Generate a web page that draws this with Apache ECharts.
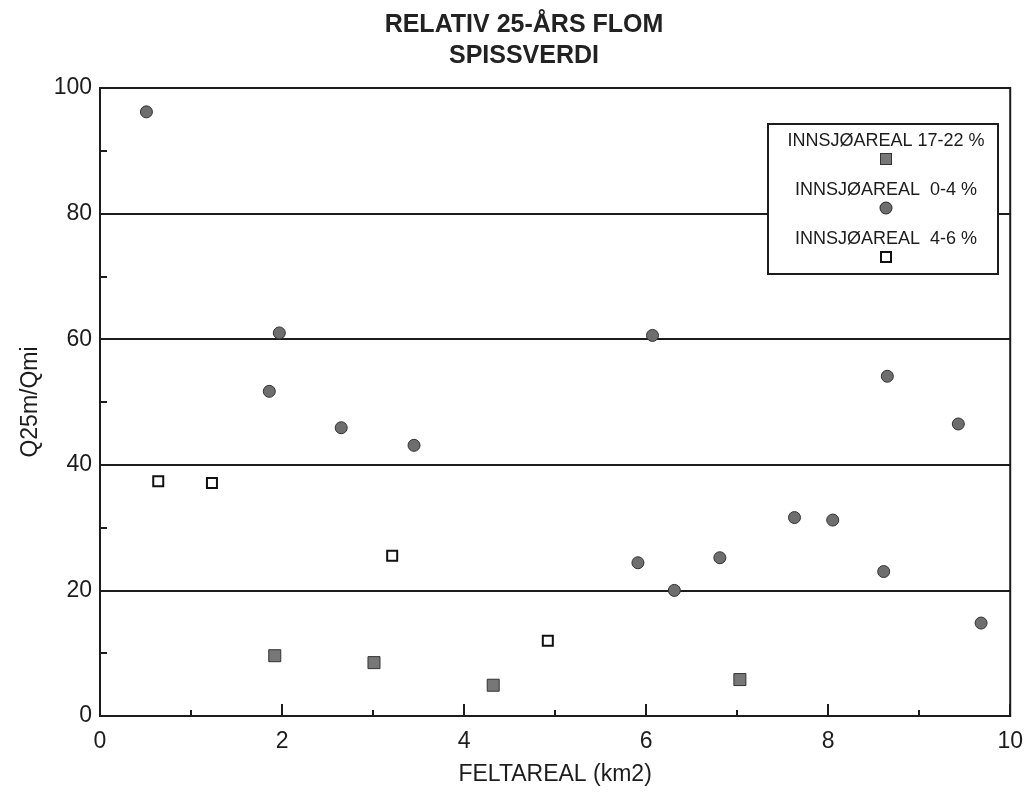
<!DOCTYPE html>
<html>
<head>
<meta charset="utf-8">
<script src="https://cdn.jsdelivr.net/npm/echarts@6/dist/echarts.min.js"></script>
<style>
  html, body { margin: 0; padding: 0; background: #fff; }
  #chart { width: 1026px; height: 796px; }
</style>
</head>
<body>
<div id="chart"></div>
<script>
// FELTAREAL (km2), Q25m/Qmi
const seriesNames = ['INNSJØAREAL 17-22 %', 'INNSJØAREAL  0-4 %', 'INNSJØAREAL  4-6 %'];
const lake17_22 = [[1.92, 9.6], [3.01, 8.5], [4.32, 4.9], [7.03, 5.8]];
const lake0_4 = [
  [0.51, 96.2], [1.97, 61.0], [1.86, 51.7], [2.65, 45.9], [3.45, 43.1],
  [6.07, 60.6], [5.91, 24.4], [6.31, 20.0], [6.81, 25.2], [7.63, 31.6],
  [8.05, 31.2], [8.61, 23.0], [8.65, 54.1], [9.43, 46.5], [9.68, 14.8]
];
const lake4_6 = [[0.64, 37.4], [1.23, 37.1], [3.21, 25.5], [4.92, 12.0]];
const xTicks = [0, 2, 4, 6, 8, 10];
const yTicks = [0, 20, 40, 60, 80, 100];

const ink = '#1c1c1c';
const font = '"Liberation Sans", Arial, sans-serif';
const legendKeys = ['sq', 'ci', 'os'];

const chart = echarts.init(document.getElementById('chart'));
chart.setOption({
  backgroundColor: '#ffffff',
  animation: false,
  title: {
    text: 'RELATIV 25-ÅRS FLOM\nSPISSVERDI',
    left: 519,
    top: 5,
    textAlign: 'center',
    textStyle: {
      fontFamily: font,
      fontWeight: 'bold',
      fontSize: 25,
      lineHeight: 31,
      color: '#222'
    }
  },
  grid: { left: 100, right: 14, top: 88, bottom: 80, show: true, borderColor: ink, borderWidth: 2 },
  legend: {
    orient: 'vertical',
    left: 768,
    top: 124,
    padding: [8, 7, 8, 7],
    itemGap: 13,
    itemWidth: 0,
    itemHeight: 0,
    itemStyle: { opacity: 0 },
    borderColor: ink,
    borderWidth: 2,
    backgroundColor: '#fff',
    selectedMode: false,
    data: seriesNames,
    formatter: function (name) {
      return '{t|' + name + '}\n{' + legendKeys[seriesNames.indexOf(name)] + '|}';
    },
    textStyle: {
      fontFamily: font,
      fontSize: 18,
      color: ink,
      rich: {
        t: { width: 210, align: 'center', lineHeight: 18, fontFamily: font, fontSize: 18, color: ink },
        sq: { width: 10, height: 10, align: 'center', lineHeight: 18, backgroundColor: '#777', borderColor: '#333', borderWidth: 1 },
        ci: { width: 11, height: 11, align: 'center', lineHeight: 18, backgroundColor: '#6e6e6e', borderColor: '#333', borderWidth: 1, borderRadius: 6 },
        os: { width: 8, height: 8, align: 'center', lineHeight: 18, backgroundColor: '#fff', borderColor: '#111', borderWidth: 2 }
      }
    }
  },
  xAxis: {
    type: 'value',
    min: xTicks[0],
    max: xTicks[xTicks.length - 1],
    interval: 2,
    name: 'FELTAREAL (km2)',
    nameLocation: 'middle',
    nameGap: 47,
    nameTextStyle: { fontFamily: font, fontSize: 23, color: ink },
    axisLine: { lineStyle: { color: ink, width: 2 } },
    axisTick: { inside: true, length: 12, lineStyle: { color: ink, width: 2 } },
    minorTick: { show: true, splitNumber: 2, length: 6, lineStyle: { color: ink, width: 2 } },
    splitLine: { show: false },
    axisLabel: { fontFamily: font, fontSize: 23, color: ink, margin: 14 }
  },
  yAxis: {
    type: 'value',
    min: yTicks[0],
    max: yTicks[yTicks.length - 1],
    interval: 20,
    name: 'Q25m/Qmi',
    nameLocation: 'middle',
    nameGap: 58,
    nameTextStyle: { fontFamily: font, fontSize: 23, color: ink },
    axisLine: { lineStyle: { color: ink, width: 2 } },
    axisTick: { show: false, inside: true },
    minorTick: { show: true, splitNumber: 2, length: 7, lineStyle: { color: ink, width: 2 } },
    splitLine: { show: true, lineStyle: { color: ink, width: 2 } },
    axisLabel: { fontFamily: font, fontSize: 23, color: ink, margin: 8 }
  },
  series: [
    {
      name: seriesNames[0],
      type: 'scatter',
      symbol: 'rect',
      symbolSize: 12,
      itemStyle: { color: '#777', borderColor: '#333', borderWidth: 1, opacity: 1 },
      data: lake17_22
    },
    {
      name: seriesNames[1],
      type: 'scatter',
      symbol: 'circle',
      symbolSize: 12,
      itemStyle: { color: '#6e6e6e', borderColor: '#333', borderWidth: 1, opacity: 1 },
      data: lake0_4
    },
    {
      name: seriesNames[2],
      type: 'scatter',
      symbol: 'rect',
      symbolSize: 10,
      itemStyle: { color: '#fff', borderColor: '#111', borderWidth: 2, opacity: 1 },
      data: lake4_6
    }
  ]
});
</script>
</body>
</html>
